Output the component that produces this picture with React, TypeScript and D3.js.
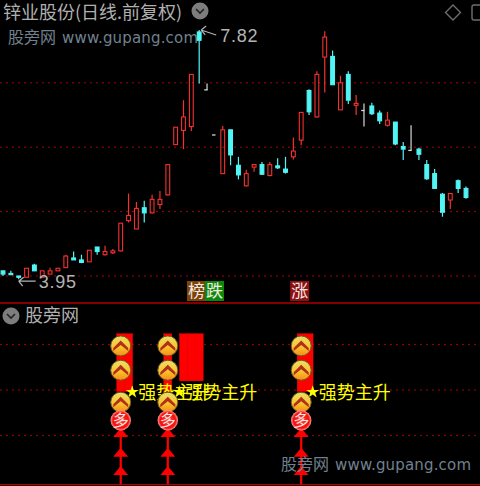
import React, { useEffect, useRef } from 'react';
import * as d3 from 'd3';

const opens = [4.08,4.04,4.00,3.98,4.17,3.98,4.03,4.08,4.13,4.28,4.25,4.22,4.45,4.33,4.36,4.39,4.86,4.73,5.06,4.98,5.11,5.26,6.04,6.26,6.32,7.79,6.89,6.19,5.59,6.27,5.72,5.40,5.69,5.73,5.56,5.71,5.66,5.85,6.11,6.88,6.47,7.40,7.41,6.58,7.13,6.65,6.57,6.64,6.53,6.34,6.39,6.01,5.95,5.97,5.73,5.59,5.27,5.18,5.48,5.36];
const closes = [4.03,4.02,3.98,4.12,4.08,4.08,4.08,4.12,4.31,4.25,4.21,4.40,4.38,4.38,4.39,4.82,4.94,5.05,4.98,5.19,5.19,5.73,6.31,6.47,7.13,7.66,6.89,6.19,6.27,5.88,5.57,5.59,5.73,5.58,5.73,5.68,5.61,5.94,6.54,6.55,7.13,7.71,6.97,7.00,6.73,6.68,6.57,6.52,6.41,6.42,6.05,5.97,5.95,5.89,5.51,5.36,4.99,5.28,5.36,5.22];
const highs = [4.08,4.08,4.00,4.12,4.19,4.08,4.13,4.12,4.33,4.38,4.33,4.40,4.45,4.47,4.42,4.82,5.28,5.15,5.17,5.26,5.32,5.73,6.31,6.73,7.13,7.82,6.99,6.19,6.33,6.27,5.85,5.65,5.73,5.77,5.77,5.83,5.85,6.15,6.54,6.90,7.18,7.80,7.50,7.11,7.18,6.81,6.68,6.69,6.57,6.55,6.39,6.08,6.34,5.99,5.80,5.66,5.29,5.28,5.50,5.39];
const lows = [4.00,4.02,3.95,3.98,4.08,3.98,4.03,4.08,4.13,4.25,4.20,4.22,4.33,4.32,4.34,4.38,4.83,4.73,4.83,4.97,5.04,5.25,6.04,5.97,6.25,6.99,6.89,6.19,5.59,5.72,5.50,5.39,5.62,5.57,5.55,5.66,5.59,5.81,6.03,6.50,6.46,6.85,6.97,6.58,6.67,6.50,6.32,6.50,6.36,6.32,6.03,5.80,5.95,5.80,5.49,5.36,4.92,5.04,5.29,5.20];
const priceGrid = [7, 6, 5, 4];

// lower panel
const indicatorGrid = [80, 50, 20];
const strongDays = [15, 16, 21, 23, 24, 25, 38, 39];
const strongTops = [87, 87, 87, 87, 87, 87, 87, 87];
const strongBottoms = [49, 49, 49, 56, 56, 56, 49, 49];
const signalDays = [15, 21, 38];
const coinLevels = [79, 63, 42];
const ballLevel = 30;
const arrowLevels = [22, 9, -3];
const labelLevel = 49;
const indicatorFloor = -12;

const badges = [
  { text: '榜', day: 24.65, fill: '#7c4208' },
  { text: '跌', day: 26.95, fill: '#0a8a0a' },
  { text: '涨', day: 37.8, fill: '#8f0f12' },
];

const RED = '#f5302f';
const CYAN = '#52f5f5';
const GRID = '#a80000';
const CJK = '"Noto Sans CJK SC", sans-serif';
const WATERMARK = '#71808f';

const App = () => {
  const ref = useRef<SVGSVGElement>(null);

  useEffect(() => {
    const svg = d3.select(ref.current);
    svg.selectAll('*').remove();

    const days = d3.range(opens.length);
    const x = d3.scaleLinear().domain([0, 59]).range([3, 466]);
    const y = d3.scaleLinear().domain([4, 7]).range([276, 82.8]);
    const yInd = d3.scaleLinear().domain([20, 80]).range([435.6, 344.4]);

    const defs = svg.append('defs');
    const coin = defs.append('linearGradient').attr('id', 'coin').attr('x1', 0).attr('y1', 0).attr('x2', 0).attr('y2', 1);
    coin.append('stop').attr('offset', '0%').attr('stop-color', '#e8e06a');
    coin.append('stop').attr('offset', '55%').attr('stop-color', '#fbc52c');
    coin.append('stop').attr('offset', '100%').attr('stop-color', '#f58a18');
    const ball = defs.append('radialGradient').attr('id', 'ball');
    ball.append('stop').attr('offset', '0%').attr('stop-color', '#ff5040');
    ball.append('stop').attr('offset', '75%').attr('stop-color', '#f40c0c');
    ball.append('stop').attr('offset', '100%').attr('stop-color', '#ff9a90');

    // grid lines
    const dotted = (g: any, ys: number[]) => g.selectAll('line').data(ys).join('line')
      .attr('x1', 0).attr('x2', 480)
      .attr('y1', (d: number) => d).attr('y2', (d: number) => d)
      .attr('stroke', GRID).attr('stroke-width', 1).attr('stroke-dasharray', '2 4');
    svg.append('g').call(dotted, priceGrid.map((d) => y(d)));
    svg.append('g').call(dotted, indicatorGrid.map((d) => yInd(d)));

    // panel borders
    svg.append('line').attr('x1', 0).attr('x2', 480).attr('y1', 303).attr('y2', 303)
      .attr('stroke', '#b00000').attr('stroke-width', 1.6);
    svg.append('line').attr('x1', 0).attr('x2', 480).attr('y1', 484.6).attr('y2', 484.6)
      .attr('stroke', '#b00000').attr('stroke-width', 1.4);

    // watermark top
    const mark = (px: number, py: number) => {
      const g = svg.append('g').attr('fill', WATERMARK);
      g.append('text').attr('x', px).attr('y', py).attr('font-family', CJK).attr('font-size', 16).text('股旁网');
      g.append('text').attr('x', px + 54).attr('y', py).attr('font-family', '"DejaVu Sans"').attr('font-size', 15)
        .attr('textLength', 136).text('www.gupang.com');
    };
    mark(8, 43);

    // candles
    const candles = svg.append('g').selectAll('g').data(days).join('g');
    const colorOf = (i: number) => closes[i] > opens[i] ? RED : closes[i] < opens[i] ? CYAN : '#d8d8d8';
    candles.append('line')
      .attr('x1', (i) => x(i)).attr('x2', (i) => x(i))
      .attr('y1', (i) => y(highs[i])).attr('y2', (i) => y(d3.max([opens[i], closes[i]]) as number))
      .attr('stroke', colorOf).attr('stroke-width', 1.2);
    candles.append('line')
      .attr('x1', (i) => x(i)).attr('x2', (i) => x(i))
      .attr('y1', (i) => y(d3.min([opens[i], closes[i]]) as number)).attr('y2', (i) => y(lows[i]))
      .attr('stroke', colorOf).attr('stroke-width', 1.2);
    candles.filter((i) => opens[i] !== closes[i]).append('rect')
      .attr('x', (i) => x(i) - 1.9)
      .attr('width', 3.8)
      .attr('y', (i) => y(d3.max([opens[i], closes[i]]) as number))
      .attr('height', (i) => Math.abs(y(opens[i]) - y(closes[i])))
      .attr('fill', (i) => closes[i] < opens[i] ? CYAN : 'none')
      .attr('stroke', colorOf).attr('stroke-width', 1.1);
    candles.filter((i) => opens[i] === closes[i]).append('line')
      .attr('x1', (i) => x(i) - 2.8).attr('x2', (i) => x(i) + 0.6)
      .attr('y1', (i) => y(opens[i])).attr('y2', (i) => y(opens[i]))
      .attr('stroke', '#d8d8d8').attr('stroke-width', 1.3);

    // high / low labels
    const noteFill = '#b4b4b4';
    const hiDay = d3.maxIndex(highs);
    const loDay = d3.minIndex(lows);
    const arrow = (fromX: number, toX: number, py: number, dy: number) => {
      svg.append('path')
        .attr('d', `M${fromX},${py}L${toX},${py + dy}M${fromX},${py}l5,-4M${fromX},${py}l4,5`)
        .attr('fill', 'none').attr('stroke', noteFill).attr('stroke-width', 1.2);
    };
    arrow(x(hiDay) + 2, x(hiDay) + 17, y(highs[hiDay]), 5);
    svg.append('text').attr('x', x(hiDay) + 21).attr('y', y(highs[hiDay]) + 12)
      .attr('font-family', '"Liberation Sans"').attr('font-size', 18).attr('letter-spacing', 0.8)
      .attr('fill', noteFill).text(d3.format('.2f')(highs[hiDay]));
    arrow(x(loDay), x(loDay) + 17, y(lows[loDay]) + 2, 0);
    svg.append('text').attr('x', x(loDay) + 20).attr('y', y(lows[loDay]) + 9)
      .attr('font-family', '"Liberation Sans"').attr('font-size', 18).attr('letter-spacing', 0.8)
      .attr('fill', noteFill).text(d3.format('.2f')(lows[loDay]));

    // badges
    const b = svg.append('g').selectAll('g').data(badges).join('g');
    b.append('rect').attr('x', (d) => x(d.day) - 9.5).attr('y', 281).attr('width', 19).attr('height', 20).attr('fill', (d) => d.fill);
    b.append('text').attr('x', (d) => x(d.day)).attr('y', 297).attr('text-anchor', 'middle')
      .attr('font-family', CJK).attr('font-size', 17).attr('fill', '#f0e8e0').text((d) => d.text);

    // title
    svg.append('text').attr('x', 3).attr('y', 19).attr('font-family', CJK).attr('font-size', 18)
      .attr('fill', '#b0b0b0').text('锌业股份(日线.前复权)');
    svg.append('text').attr('x', 25).attr('y', 322).attr('font-family', CJK).attr('font-size', 18)
      .attr('fill', '#b0b0b0').text('股旁网');

    // round chevron buttons
    const button = (cx: number, cy: number) => {
      svg.append('circle').attr('cx', cx).attr('cy', cy).attr('r', 8.5).attr('fill', '#7d7d7d');
      svg.append('path').attr('d', `M${cx - 4},${cy - 2}L${cx},${cy + 2}L${cx + 4},${cy - 2}`)
        .attr('fill', 'none').attr('stroke', '#222').attr('stroke-width', 1.6);
    };
    button(200, 11);
    button(11, 316);

    // top right icons
    svg.append('path').attr('d', 'M453,5L460.5,12.5L453,20L445.5,12.5Z').attr('fill', 'none').attr('stroke', '#6e6e6e').attr('stroke-width', 1.4);
    svg.append('rect').attr('x', 472).attr('y', 5).attr('width', 12).attr('height', 15).attr('rx', 2).attr('fill', 'none').attr('stroke', '#6e6e6e').attr('stroke-width', 1.4);

    // strong trend bars
    svg.append('g').selectAll('rect').data(strongDays).join('rect')
      .attr('x', (d) => x(d) - 4)
      .attr('width', 8)
      .attr('y', (_, i) => yInd(strongTops[i]))
      .attr('height', (_, i) => yInd(strongBottoms[i]) - yInd(strongTops[i]))
      .attr('fill', '#ff0000')
      .attr('stroke', '#ff0000').attr('stroke-width', 0.4);

    // star labels
    const star = d3.symbol().type(d3.symbolStar).size(52);
    const labels = svg.append('g').selectAll('g').data(signalDays).join('g');
    labels.append('text').attr('x', (d) => x(d) + 17.5).attr('y', yInd(labelLevel) + 7)
      .attr('font-family', CJK).attr('font-size', 18).attr('fill', '#ffff00').text('强势主升');
    labels.append('path').attr('d', star as any).attr('fill', '#ffff00')
      .attr('transform', (d) => `translate(${x(d) + 11.5},${yInd(labelLevel) + 0.5})`);

    // arrows
    const up = svg.append('g').selectAll('g').data(signalDays).join('g').attr('transform', (d) => `translate(${x(d)},0)`);
    up.append('line').attr('y1', yInd(arrowLevels[0])).attr('y2', yInd(indicatorFloor)).attr('stroke', '#ff0000').attr('stroke-width', 2.2);
    arrowLevels.forEach((lv) => {
      up.append('path').attr('d', 'M0,-4.6L7.4,4.4L-7.4,4.4Z').attr('fill', '#ff0000').attr('transform', `translate(0,${yInd(lv)})`);
    });

    // coins
    const signals = svg.append('g').selectAll('g').data(signalDays).join('g');
    coinLevels.forEach((lv) => {
      const c = signals.append('g').attr('transform', (d) => `translate(${x(d)},${yInd(lv)})`);
      c.append('circle').attr('r', 10).attr('fill', 'url(#coin)').attr('stroke', '#6e5a20').attr('stroke-width', 1);
      c.append('path').attr('d', 'M-7.5,2L0,-5.5L7.5,2L7.5,5L0,-1L-7.5,5Z').attr('fill', '#b0301c');
    });
    const balls = signals.append('g').attr('transform', (d) => `translate(${x(d)},${yInd(ballLevel)})`);
    balls.append('circle').attr('r', 10.2).attr('fill', 'url(#ball)');
    balls.append('text').attr('y', 6).attr('text-anchor', 'middle').attr('font-family', CJK)
      .attr('font-size', 16).attr('fill', '#ffe8e8').text('多');

    // watermark bottom
    mark(281, 470);
  }, []);

  return (
    <svg ref={ref} width={480} height={486}
      style={{ position: 'fixed', left: 0, top: 0, display: 'block', background: '#000' }} />
  );
};

export default App;
